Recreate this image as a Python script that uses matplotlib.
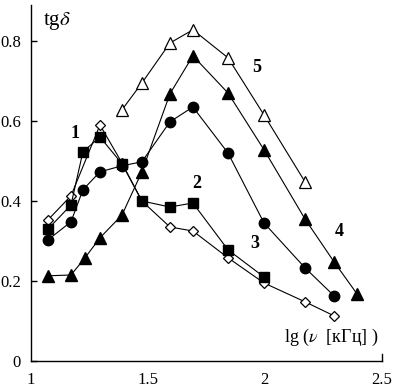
import matplotlib
matplotlib.use("Agg")
import matplotlib.pyplot as plt

# Data
x1 = [1.075, 1.173, 1.297, 1.391, 1.476, 1.596, 1.694, 1.844, 1.998, 2.173, 2.297]
y1 = [0.353, 0.413, 0.590, 0.495, 0.400, 0.335, 0.325, 0.258, 0.195, 0.148, 0.113]

x2 = [1.075, 1.173, 1.224, 1.297, 1.391, 1.476, 1.596, 1.694, 1.844, 1.998]
y2 = [0.330, 0.390, 0.523, 0.560, 0.493, 0.400, 0.385, 0.395, 0.278, 0.210]

x3 = [1.075, 1.173, 1.224, 1.297, 1.391, 1.476, 1.596, 1.694, 1.844, 1.998, 2.173, 2.297]
y3 = [0.303, 0.348, 0.428, 0.473, 0.488, 0.498, 0.598, 0.635, 0.520, 0.345, 0.233, 0.163]

x4 = [1.075, 1.173, 1.233, 1.297, 1.391, 1.476, 1.596, 1.694, 1.844, 1.998, 2.173, 2.297, 2.395]
y4 = [0.213, 0.215, 0.258, 0.308, 0.365, 0.473, 0.668, 0.763, 0.670, 0.528, 0.355, 0.248, 0.168]

x5 = [1.391, 1.476, 1.596, 1.694, 1.844, 1.998, 2.173]
y5 = [0.628, 0.695, 0.795, 0.828, 0.758, 0.615, 0.448]

xticks = [1, 1.5, 2, 2.5]
xtick_labels = ["1", "1.5", "2", "2.5"]
yticks = [0, 0.2, 0.4, 0.6, 0.8]
ytick_labels = ["0", "0.2", "0.4", "0.6", "0.8"]

series_labels = ["1", "2", "3", "4", "5"]
label_pos = [(1.19, 0.57), (1.71, 0.445), (1.96, 0.295), (2.32, 0.325), (1.965, 0.735)]

serif = ["Liberation Serif", "DejaVu Serif"]
plt.rcParams['font.family'] = serif
plt.rcParams['mathtext.fontset'] = 'stix'

fig = plt.figure(figsize=(3.94, 3.91), dpi=100)
ax = fig.add_axes([30.5 / 394, 1 - 361 / 391, (381.5 - 30.5) / 394, (361 - 5) / 391])
ax.set_xlim(1, 2.5)
ax.set_ylim(0, 0.89)

lw = 0.8
ax.plot(x1, y1, color="black", lw=lw, marker="D", ms=5.5, mfc="white", mec="black", mew=0.9, zorder=2)
ax.plot(x2, y2, color="black", lw=lw, marker="s", ms=7.5, mfc="black", mec="black", zorder=3)
ax.plot(x3, y3, color="black", lw=lw, marker="o", ms=7.5, mfc="black", mec="black", zorder=3)
ax.plot(x4, y4, color="black", lw=lw, marker="^", ms=8, mfc="black", mec="black", zorder=3)
ax.plot(x5, y5, color="black", lw=lw, marker="^", ms=8, mfc="white", mec="black", mew=0.9, zorder=3)

for lab, (lx, ly) in zip(series_labels, label_pos):
    ax.text(lx, ly, lab, fontsize=13, fontweight="bold", ha="center", va="center", family=serif)

ax.spines["top"].set_visible(False)
ax.spines["right"].set_bounds(0, 0.018)
for s in ["left", "bottom", "right"]:
    ax.spines[s].set_linewidth(1.0)

ax.set_xticks(xticks)
ax.set_xticklabels(xtick_labels)
ax.set_yticks(yticks)
ax.set_yticklabels(ytick_labels)
ax.tick_params(axis="x", length=0, pad=8, labelsize=12)
ax.tick_params(axis="y", direction="in", length=4, width=1.0, pad=7, labelsize=12)

ax.text(0.035, 0.985, "tg$\\delta$", transform=ax.transAxes, fontsize=15, ha="left", va="top", family=serif)
ax.text(0.99, 0.065, "lg ($\\nu$  [кГц] )", transform=ax.transAxes, fontsize=13,
        ha="right", va="center", family=serif)

fig.savefig("out.png", dpi=100)
